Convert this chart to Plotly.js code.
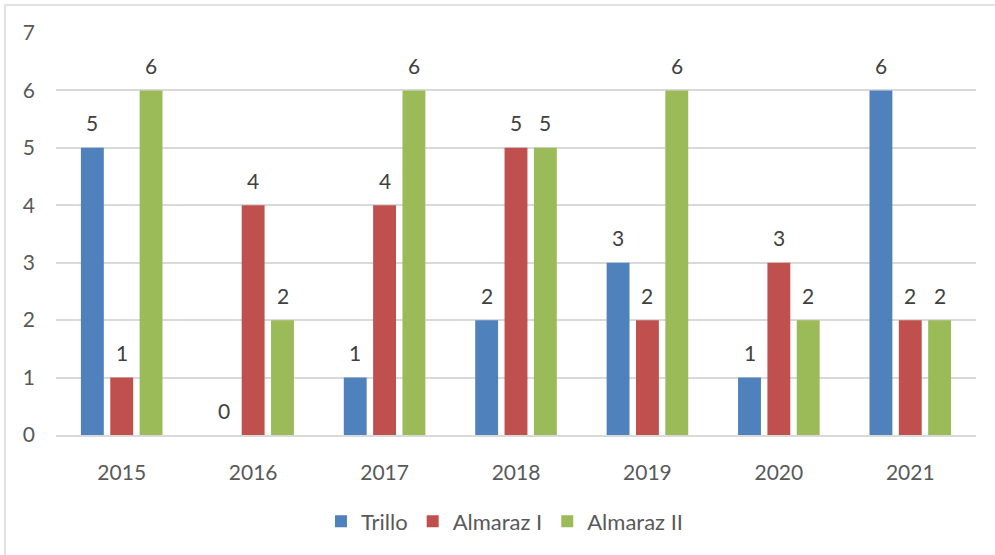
<!DOCTYPE html>
<html>
<head>
<meta charset="utf-8">
<script src="https://cdn.plot.ly/plotly-3.0.1.min.js"></script>
<style>html,body{margin:0;padding:0;background:#fff;}#chart{width:995px;height:555px;}</style>
</head>
<body>
<div id="chart"></div>
<script>
const years = ['2015', '2016', '2017', '2018', '2019', '2020', '2021'];
const seriesNames = ['Trillo', 'Almaraz I', 'Almaraz II'];
const trillo = [5, 0, 1, 2, 3, 1, 6];
const almarazI = [1, 4, 4, 5, 2, 3, 2];
const almarazII = [6, 2, 6, 5, 6, 2, 2];
const colors = ['#4F81BD', '#C0504D', '#9BBB59'];
const yTicks = [0, 1, 2, 3, 4, 5, 6, 7];

const FONT = 'Lato, "Liberation Sans", Arial, sans-serif';
const BARGAP = 0.33;
const allSeries = [trillo, almarazI, almarazII];

const traces = allSeries.map((vals, i) => ({
  type: 'bar',
  name: seriesNames[i],
  x: years,
  y: vals,
  marker: {color: colors[i]},
  hoverinfo: 'x+y+name'
}));

const slot = (1 - BARGAP) / allSeries.length;
const annotations = [];
allSeries.forEach((vals, i) => {
  vals.forEach((v, j) => {
    annotations.push({
      x: j + (i - (allSeries.length - 1) / 2) * slot,
      y: v,
      xref: 'x', yref: 'y',
      text: String(v),
      showarrow: false,
      yanchor: 'middle',
      yshift: 25,
      font: {family: FONT, size: 21, color: '#404040'}
    });
  });
});

const layout = {
  width: 995, height: 555,
  margin: {l: 56, r: 19, t: 33, b: 120},
  paper_bgcolor: '#ffffff',
  plot_bgcolor: '#ffffff',
  barmode: 'group',
  bargap: BARGAP,
  bargroupgap: 0.22,
  font: {family: FONT, size: 21, color: '#595959'},
  xaxis: {
    type: 'category',
    showgrid: false,
    showline: true,
    linecolor: '#d9d9d9',
    linewidth: 1.5,
    ticks: '',
    ticklabelstandoff: 18,
    tickfont: {family: FONT, size: 21, color: '#595959'},
    fixedrange: true
  },
  yaxis: {
    range: [0, 7],
    tickvals: yTicks,
    ticktext: yTicks.map(String),
    showgrid: true,
    gridcolor: '#d9d9d9',
    gridwidth: 1.5,
    zeroline: false,
    showline: false,
    ticks: '',
    ticklabelstandoff: 20,
    tickfont: {family: FONT, size: 21, color: '#595959'},
    fixedrange: true
  },
  legend: {
    orientation: 'h',
    x: 0.488, xanchor: 'center',
    y: -0.215, yanchor: 'middle',
    font: {family: FONT, size: 22, color: '#595959'},
    itemclick: false
  },
  shapes: [{
    type: 'rect', xref: 'paper', yref: 'paper',
    x0: -0.0554, x1: 1.2, y0: -0.4, y1: 1.0697,
    line: {color: '#d9d9d9', width: 1.5},
    fillcolor: 'rgba(0,0,0,0)',
    layer: 'below'
  }],
  annotations: annotations,
  showlegend: true
};

Plotly.newPlot('chart', traces, layout, {displayModeBar: false, staticPlot: false});
</script>
</body>
</html>
